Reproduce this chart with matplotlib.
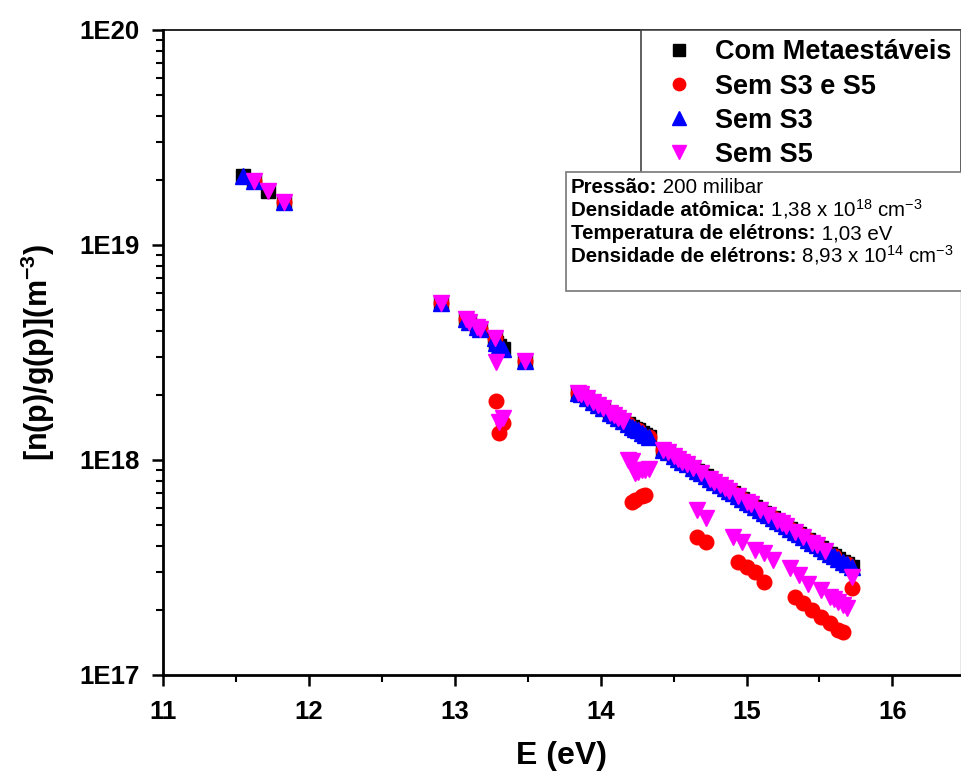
import numpy as np
import matplotlib
matplotlib.use("Agg")
import matplotlib.pyplot as plt
from matplotlib.patches import Rectangle
from matplotlib.ticker import LogLocator, NullFormatter, MultipleLocator

plt.rcParams["font.family"] = ["Liberation Sans", "DejaVu Sans"]
plt.rcParams["mathtext.fontset"] = "custom"
plt.rcParams["mathtext.rm"] = "Liberation Sans"
plt.rcParams["mathtext.bf"] = "Liberation Sans:bold"
plt.rcParams["mathtext.it"] = "Liberation Sans:italic"
plt.rcParams["mathtext.default"] = "regular"

# ---- data: level energies (eV) and n(p)/g(p) (units of 1e18 m^-3) ----
energy = [
    11.548, 11.624, 11.723, 11.828,
    12.907, 13.076, 13.095, 13.153, 13.172, 13.273, 13.283, 13.302, 13.328, 13.480,
    13.845, 13.864, 13.903, 13.950, 13.979, 14.013, 14.063, 14.090, 14.120, 14.153,
    14.190, 14.214, 14.236, 14.255, 14.280, 14.304, 14.330,
    14.43, 14.46, 14.50, 14.53, 14.56, 14.59, 14.63, 14.66, 14.69, 14.72, 14.75,
    14.78, 14.82, 14.85, 14.88, 14.91, 14.94, 14.97, 15.00, 15.03, 15.06, 15.09,
    15.12, 15.15, 15.18, 15.21, 15.24, 15.27, 15.30, 15.33, 15.36, 15.39, 15.42,
    15.45, 15.48, 15.51, 15.54, 15.57, 15.60, 15.63, 15.66, 15.69, 15.72,
]
n_com = [
    21.0, 19.8, 17.8, 15.8,
    5.37, 4.55, 4.40, 4.15, 4.05, 3.70, 3.50, 3.40, 3.30, 2.88,
    2.06, 2.02, 1.95, 1.86, 1.80, 1.75, 1.66, 1.62, 1.57, 1.52,
    1.47, 1.43, 1.40, 1.38, 1.34, 1.31, 1.28,
    1.116, 1.084, 1.042, 1.013, 0.983, 0.955, 0.918, 0.892, 0.866, 0.841, 0.817,
    0.793, 0.763, 0.741, 0.720, 0.699, 0.679, 0.659, 0.640, 0.622, 0.604, 0.587,
    0.569, 0.553, 0.537, 0.522, 0.507, 0.492, 0.478, 0.464, 0.451, 0.438, 0.425,
    0.413, 0.401, 0.389, 0.378, 0.367, 0.357, 0.346, 0.336, 0.327, 0.317,
]

# levels left out of each reduced model
removed_s3s5 = [11.548, 11.723]
removed_s3 = [11.723]
removed_s5 = [11.548]

# levels whose population changes in the reduced models
dev_e_s3s5 = [13.283, 13.302, 13.328, 14.214, 14.236, 14.280, 14.304,
              14.66, 14.72, 14.94, 15.00, 15.06, 15.12, 15.33, 15.39, 15.45, 15.51,
              15.57, 15.63, 15.66, 15.72]
dev_v_s3s5 = [1.88, 1.34, 1.48, 0.64, 0.655, 0.68, 0.69,
              0.438, 0.416, 0.335, 0.318, 0.300, 0.270, 0.231, 0.216, 0.201, 0.186,
              0.175, 0.162, 0.158, 0.254]
dev_e_s5 = [13.283, 13.302, 13.328, 14.190, 14.214, 14.236, 14.255, 14.280, 14.304, 14.330,
            14.66, 14.72, 14.91, 14.97, 15.06, 15.12, 15.18, 15.30, 15.36, 15.42,
            15.51, 15.57, 15.60, 15.63, 15.66, 15.69, 15.72]
dev_v_s5 = [2.86, 1.50, 1.57, 1.00, 0.99, 0.87, 0.88, 0.90, 0.90, 0.91,
            0.585, 0.540, 0.440, 0.416, 0.381, 0.370, 0.343, 0.315, 0.292, 0.266,
            0.249, 0.231, 0.226, 0.218, 0.211, 0.205, 0.286]

series_labels = ["Com Metaestáveis", "Sem S3 e S5", "Sem S3", "Sem S5"]
info_lines = [
    ("Pressão:", " 200 milibar"),
    ("Densidade atômica:", r" 1,38 x 10$^{18}$ cm$^{-3}$"),
    ("Temperatura de elétrons:", " 1,03 eV"),
    ("Densidade de elétrons:", r" 8,93 x 10$^{14}$ cm$^{-3}$"),
]

E = np.array(energy)
base = np.array(n_com) * 1e18


def variant(removed, dev_e, dev_v):
    v = base.copy()
    for e in removed:
        v[np.isclose(E, e)] = np.nan
    for e, d in zip(dev_e, dev_v):
        v[np.isclose(E, e)] = d * 1e18
    return v


n_s3s5 = variant(removed_s3s5, dev_e_s3s5, dev_v_s3s5)
n_s3 = variant(removed_s3, [], [])
n_s5 = variant(removed_s5, dev_e_s5, dev_v_s5)

W, H = 962, 772
fig = plt.figure(figsize=(W / 100, H / 100), dpi=100)
ax = fig.add_axes([163 / W, 97 / H, (961 - 163) / W, 645 / H])

ax.plot(E, base, ls="none", marker="s", ms=9.5, color="black", mec="black", label=series_labels[0])
ax.plot(E, n_s3s5, ls="none", marker="o", ms=10.5, color="#ff0000", mec="#ff0000", label=series_labels[1])
ax.plot(E, n_s3, ls="none", marker="^", ms=12, color="#0000ff", mec="#0000ff", label=series_labels[2])
ax.plot(E, n_s5, ls="none", marker="v", ms=12, color="#ff00ff", mec="#ff00ff", label=series_labels[3])

ax.set_yscale("log")
ax.set_ylim(1e17, 1e20)
ax.set_xlim(11, 16.47)

ax.set_yticks([1e17, 1e18, 1e19, 1e20], ["1E17", "1E18", "1E19", "1E20"],
              fontweight="bold", fontsize=18.5)
ax.yaxis.set_minor_locator(LogLocator(base=10, subs=np.arange(2, 10)))
ax.yaxis.set_minor_formatter(NullFormatter())
ax.set_xticks([11, 12, 13, 14, 15, 16], ["11", "12", "13", "14", "15", "16"],
              fontweight="bold", fontsize=18.5)
ax.xaxis.set_minor_locator(MultipleLocator(0.5))

ax.tick_params(which="major", direction="out", length=8, width=1.8)
ax.tick_params(axis="x", which="major", pad=10)
ax.tick_params(axis="y", which="major", pad=9)
ax.tick_params(which="minor", direction="out", length=5, width=1.5)
ax.tick_params(top=False, right=False, which="both")

for side in ("left", "bottom"):
    ax.spines[side].set_linewidth(2.0)
ax.spines["top"].set_linewidth(1.2)
ax.spines["right"].set_linewidth(1.0)
ax.spines["right"].set_color("#888888")

ax.set_xlabel("E (eV)", fontsize=23, fontweight="bold", labelpad=12)
ax.set_ylabel(r"[n(p)/g(p)](m$^{\mathbf{-3}}$)", fontsize=22, fontweight="bold", labelpad=16)

leg = ax.legend(loc="upper right", bbox_to_anchor=(1.0, 1.0), borderaxespad=0,
                fancybox=False, framealpha=1, edgecolor="#444444",
                prop={"weight": "bold", "size": 19.5}, markerscale=0.85,
                handlelength=2.15, handletextpad=0.25, labelspacing=0.3, borderpad=0.35)
leg.get_frame().set_linewidth(1.2)


def ax_frac(px, py):
    return (px - 163) / (961 - 163), (675 - py) / 645


x0, y0 = ax_frac(566, 291)
x1, y1 = ax_frac(962, 172)
ax.add_patch(Rectangle((x0, y0), x1 - x0, y1 - y0, transform=ax.transAxes,
                       facecolor="white", edgecolor="#777777", lw=1.2, zorder=6,
                       clip_on=False))

fig.canvas.draw()
renderer = fig.canvas.get_renderer()
baselines = [193, 216, 239, 262]
for (bold, rest), by in zip(info_lines, baselines):
    tx, ty = ax_frac(571, by)
    t = ax.text(tx, ty, bold, transform=ax.transAxes, fontsize=14.8, fontweight="bold",
                va="baseline", ha="left", zorder=7)
    bb = t.get_window_extent(renderer)
    xr = ax.transAxes.inverted().transform((bb.x1, 0))[0]
    ax.text(xr, ty, rest, transform=ax.transAxes, fontsize=14.8, va="baseline",
            ha="left", zorder=7)

fig.savefig("out.png", dpi=100)
